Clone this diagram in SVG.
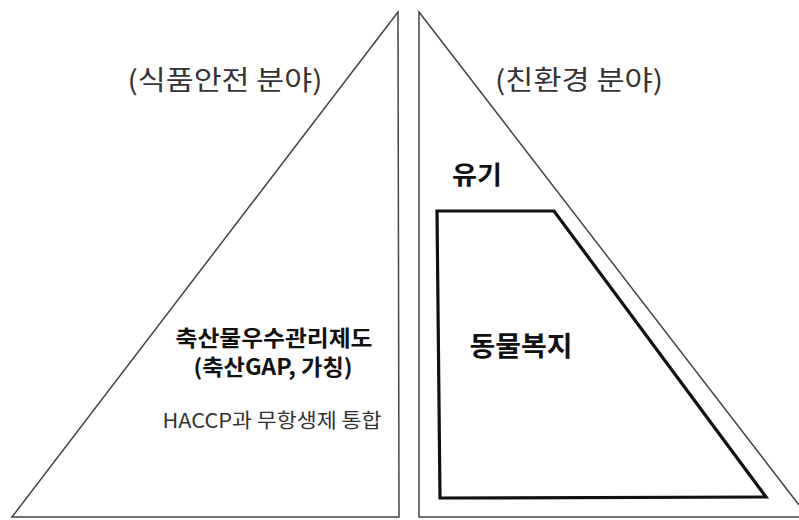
<svg xmlns="http://www.w3.org/2000/svg" width="799" height="520" viewBox="0 0 799 520">
<style>
.tri{fill:none;stroke:#444;stroke-width:1.5}
.inner{fill:none;stroke:#111;stroke-width:3.2;stroke-linejoin:miter}
.lbl{font-family:"Noto Sans CJK KR","Noto Sans",sans-serif;fill:#333}
.b{font-family:"Noto Sans CJK KR","Noto Sans",sans-serif;font-weight:bold;fill:#111}
</style>
<rect width="799" height="520" fill="#fff"/>
<g id="left-triangle">
<polygon class="tri" points="398,12 399,517 12,517"/>
<text class="lbl" x="225" y="90" font-size="27" text-anchor="middle" textLength="195" lengthAdjust="spacingAndGlyphs">(식품안전 분야)</text>
<text class="b" x="274" y="346" font-size="22" text-anchor="middle" textLength="197" lengthAdjust="spacingAndGlyphs">축산물우수관리제도</text>
<text class="b" x="273" y="375" font-size="22" text-anchor="middle" textLength="159" lengthAdjust="spacingAndGlyphs">(축산GAP, 가칭)</text>
<text class="lbl" x="272" y="428" font-size="20" text-anchor="middle" fill="#444" textLength="219" lengthAdjust="spacingAndGlyphs">HACCP과 무항생제 통합</text>
</g>
<g id="right-triangle">
<polyline class="tri" points="799,505 419,12 419,517 799,517"/>
<text class="lbl" x="579" y="90" font-size="27" text-anchor="middle" textLength="168" lengthAdjust="spacingAndGlyphs">(친환경 분야)</text>
<text class="b" x="477" y="184" font-size="25" text-anchor="middle" textLength="50" lengthAdjust="spacingAndGlyphs">유기</text>
<text class="b" x="521" y="356" font-size="27" text-anchor="middle" textLength="103" lengthAdjust="spacingAndGlyphs">동물복지</text>
</g>
<g id="animal-welfare">
<polygon class="inner" points="437,211 554,211 766,497 440,498"/>
</g>
<g id="connectors"></g>
</svg>
